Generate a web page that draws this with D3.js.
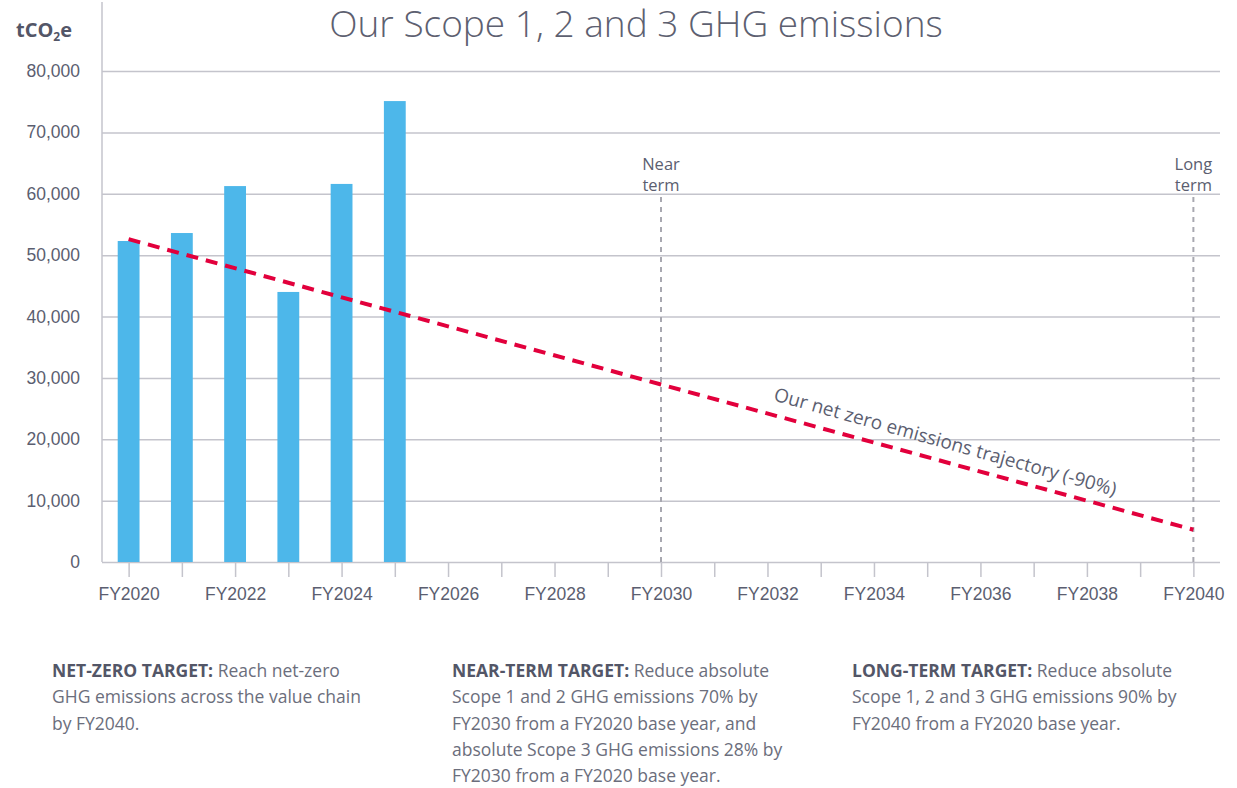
<!doctype html>
<html>
<head>
<meta charset="utf-8">
<title>Our Scope 1, 2 and 3 GHG emissions</title>
<script src="https://d3js.org/d3.v7.min.js"></script>
<style>
body { margin: 0; background: #fff; }
svg { font-family: "Open Sans", sans-serif; }
.axis text { font-size: 17.5px; fill: #5b5e70; }
.axis .domain { display: none; }
.axis line { stroke: #c4c4cc; stroke-width: 1.5px; }
.note { font-size: 17.5px; fill: #6b6e7c; }
.note .lead { font-weight: 700; fill: #535667; }
</style>
</head>
<body>
<svg width="1237" height="788"></svg>
<script>
// data
var years = d3.range(2020, 2041);
var barYears = [2020, 2021, 2022, 2023, 2024, 2025];
var emissions = [52300, 53600, 61250, 44000, 61600, 75100];
var yTicks = [0, 10000, 20000, 30000, 40000, 50000, 60000, 70000, 80000];
var trajectory = [[2020, 52600], [2040, 5260]];
var targets = [[2030, "Near", "term"], [2040, "Long", "term"]];

var svg = d3.select("svg"),
    margin = {left: 102, right: 17, top: 71, bottom: 226},
    W = +svg.attr("width"), H = +svg.attr("height");

var x = d3.scalePoint().domain(years).range([margin.left, W - margin.right]).padding(0.5),
    y = d3.scaleLinear().domain([0, 80000]).range([H - margin.bottom, margin.top]);

var grey = "#c4c4cc", textCol = "#5b5e70";

// title
svg.append("text")
    .attr("x", 636).attr("y", 37)
    .attr("text-anchor", "middle")
    .style("font-size", "37px").style("font-weight", 300).style("fill", "#5d6070")
    .text("Our Scope 1, 2 and 3 GHG emissions");

// unit
var unit = svg.append("text").attr("x", 16).attr("y", 37)
    .style("font-size", "20px").style("font-weight", 700).style("fill", "#535667");
unit.append("tspan").text("tCO");
unit.append("tspan").text("2").style("font-size", "12px").attr("dy", 4);
unit.append("tspan").text("e").attr("dy", -4);

// y axis + grid
svg.append("g").attr("class", "axis")
    .attr("transform", "translate(" + margin.left + ",0)")
    .call(d3.axisLeft(y).tickValues(yTicks).tickFormat(d3.format(",")).tickSize(-(W - margin.right - margin.left)).tickPadding(22));

svg.append("line")
    .attr("x1", margin.left).attr("x2", margin.left)
    .attr("y1", 2).attr("y2", y(0))
    .attr("stroke", grey).attr("stroke-width", 1.5);

// x axis
svg.append("g").attr("class", "axis")
    .attr("transform", "translate(0," + y(0) + ")")
    .call(d3.axisBottom(x).tickValues(years).tickSize(15).tickPadding(11)
        .tickFormat(function(d) { return d % 2 === 0 ? "FY" + d : ""; }));

// target markers
targets.forEach(function(t) {
    svg.append("line")
        .attr("x1", x(t[0])).attr("x2", x(t[0]))
        .attr("y1", 197).attr("y2", y(0))
        .attr("stroke", "#a8a8b0").attr("stroke-width", 2)
        .attr("stroke-dasharray", "5,5");
    var lab = svg.append("text").attr("text-anchor", "middle")
        .style("font-size", "16.5px").style("fill", textCol);
    lab.append("tspan").attr("x", x(t[0])).attr("y", 170).text(t[1]);
    lab.append("tspan").attr("x", x(t[0])).attr("y", 191).text(t[2]);
});

// bars
var bw = x.step() * 0.41;
svg.selectAll(".bar")
    .data(barYears)
  .enter().append("rect")
    .attr("class", "bar")
    .attr("x", function(d) { return x(d) - bw / 2; })
    .attr("y", function(d, i) { return y(emissions[i]); })
    .attr("width", bw)
    .attr("height", function(d, i) { return y(0) - y(emissions[i]); })
    .attr("fill", "#4db7ea");

// trajectory
svg.append("path")
    .datum(trajectory)
    .attr("d", d3.line().x(function(d) { return x(d[0]); }).y(function(d) { return y(d[1]); }))
    .attr("fill", "none")
    .attr("stroke", "#e2003c")
    .attr("stroke-width", 4)
    .attr("stroke-dasharray", "12,8");

var p0 = [x(trajectory[0][0]), y(trajectory[0][1])],
    p1 = [x(trajectory[1][0]), y(trajectory[1][1])],
    ang = Math.atan2(p1[1] - p0[1], p1[0] - p0[0]) * 180 / Math.PI,
    t = (940 - p0[0]) / (p1[0] - p0[0]),
    lx = p0[0] + t * (p1[0] - p0[0]), ly = p0[1] + t * (p1[1] - p0[1]);

svg.append("text")
    .attr("transform", "translate(" + lx + "," + ly + ") rotate(" + (ang + 0.4) + ")")
    .attr("text-anchor", "middle")
    .attr("dy", -13)
    .style("font-size", "19px").style("fill", textCol)
    .text("Our net zero emissions trajectory (-90%)");

// notes
var notes = [
    [52, "NET-ZERO TARGET:", [" Reach net-zero", "GHG emissions across the value chain", "by FY2040."]],
    [452, "NEAR-TERM TARGET:", [" Reduce absolute", "Scope 1 and 2 GHG emissions 70% by", "FY2030 from a FY2020 base year, and", "absolute Scope 3 GHG emissions 28% by", "FY2030 from a FY2020 base year."]],
    [852, "LONG-TERM TARGET:", [" Reduce absolute", "Scope 1, 2 and 3 GHG emissions 90% by", "FY2040 from a FY2020 base year."]]
];

notes.forEach(function(n) {
    var txt = svg.append("text").attr("class", "note");
    n[2].forEach(function(line, i) {
        if (i === 0) {
            txt.append("tspan").attr("class", "lead").attr("x", n[0]).attr("y", 677).text(n[1]);
            txt.append("tspan").text(line);
        } else {
            txt.append("tspan").attr("x", n[0]).attr("y", 677 + i * 26.3).text(line);
        }
    });
});
</script>
</body>
</html>
